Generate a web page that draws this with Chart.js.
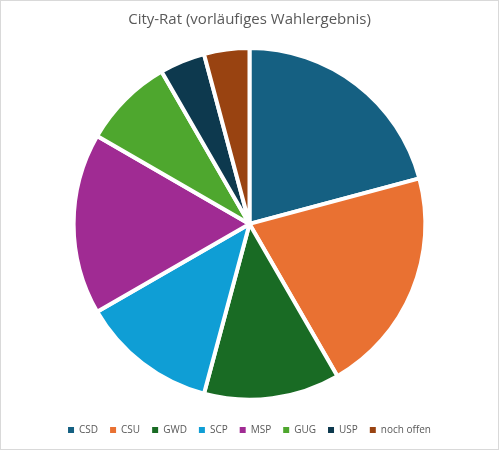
<!DOCTYPE html>
<html>
<head>
<meta charset="utf-8">
<script src="https://cdn.jsdelivr.net/npm/chart.js@4"></script>
<style>
  html, body { margin: 0; padding: 0; background: #fff; }
  .box { width: 499px; height: 450px; box-sizing: border-box; border: 1px solid #d9d9d9; }
</style>
</head>
<body>
<div class="box"><canvas id="pieChart" width="497" height="448"></canvas></div>
<script>
// Sitze je Liste
const parties = ['CSD', 'CSU', 'GWD', 'SCP', 'MSP', 'GUG', 'USP', 'noch offen'];
const seats = [10, 10, 6, 6, 8, 4, 2, 2];
const colors = ['#156082', '#E97132', '#196B24', '#0F9ED5', '#A02B93', '#4EA72E', '#0D394E', '#994311'];

document.addEventListener('DOMContentLoaded', () => {
    const ctx = document.getElementById('pieChart');
    const defaultLabels = Chart.controllers.pie.overrides.plugins.legend.labels.generateLabels;
    new Chart(ctx, {
        type: 'pie',
        data: {
            labels: parties,
            datasets: [{
                data: seats,
                backgroundColor: colors,
                borderColor: '#ffffff',
                borderWidth: 4
            }]
        },
        options: {
            responsive: false,
            animation: false,
            layout: { padding: { top: 6, bottom: 4, left: 10, right: 10 } },
            plugins: {
                title: {
                    display: true,
                    text: 'City-Rat (vorläufiges Wahlergebnis)',
                    color: '#595959',
                    font: { family: 'Open Sans', size: 15, weight: 'normal' },
                    padding: { top: 4, bottom: 17 }
                },
                legend: {
                    position: 'bottom',
                    // leerer Legendentitel = zusaetzlicher Abstand ueber den Eintraegen
                    title: { display: true, text: ' ', font: { size: 1 }, padding: { top: 10, bottom: 0 } },
                    labels: {
                        color: '#595959',
                        font: { family: 'Open Sans', size: 10 },
                        boxWidth: 6,
                        boxHeight: 6,
                        padding: 12,
                        // kein weisser Rand um die kleinen Kaestchen
                        generateLabels: (chart) => defaultLabels(chart).map(l => ({ ...l, lineWidth: 0 }))
                    },
                    padding: 6
                },
                tooltip: { enabled: false }
            }
        }
    });
});
</script>
</body>
</html>
